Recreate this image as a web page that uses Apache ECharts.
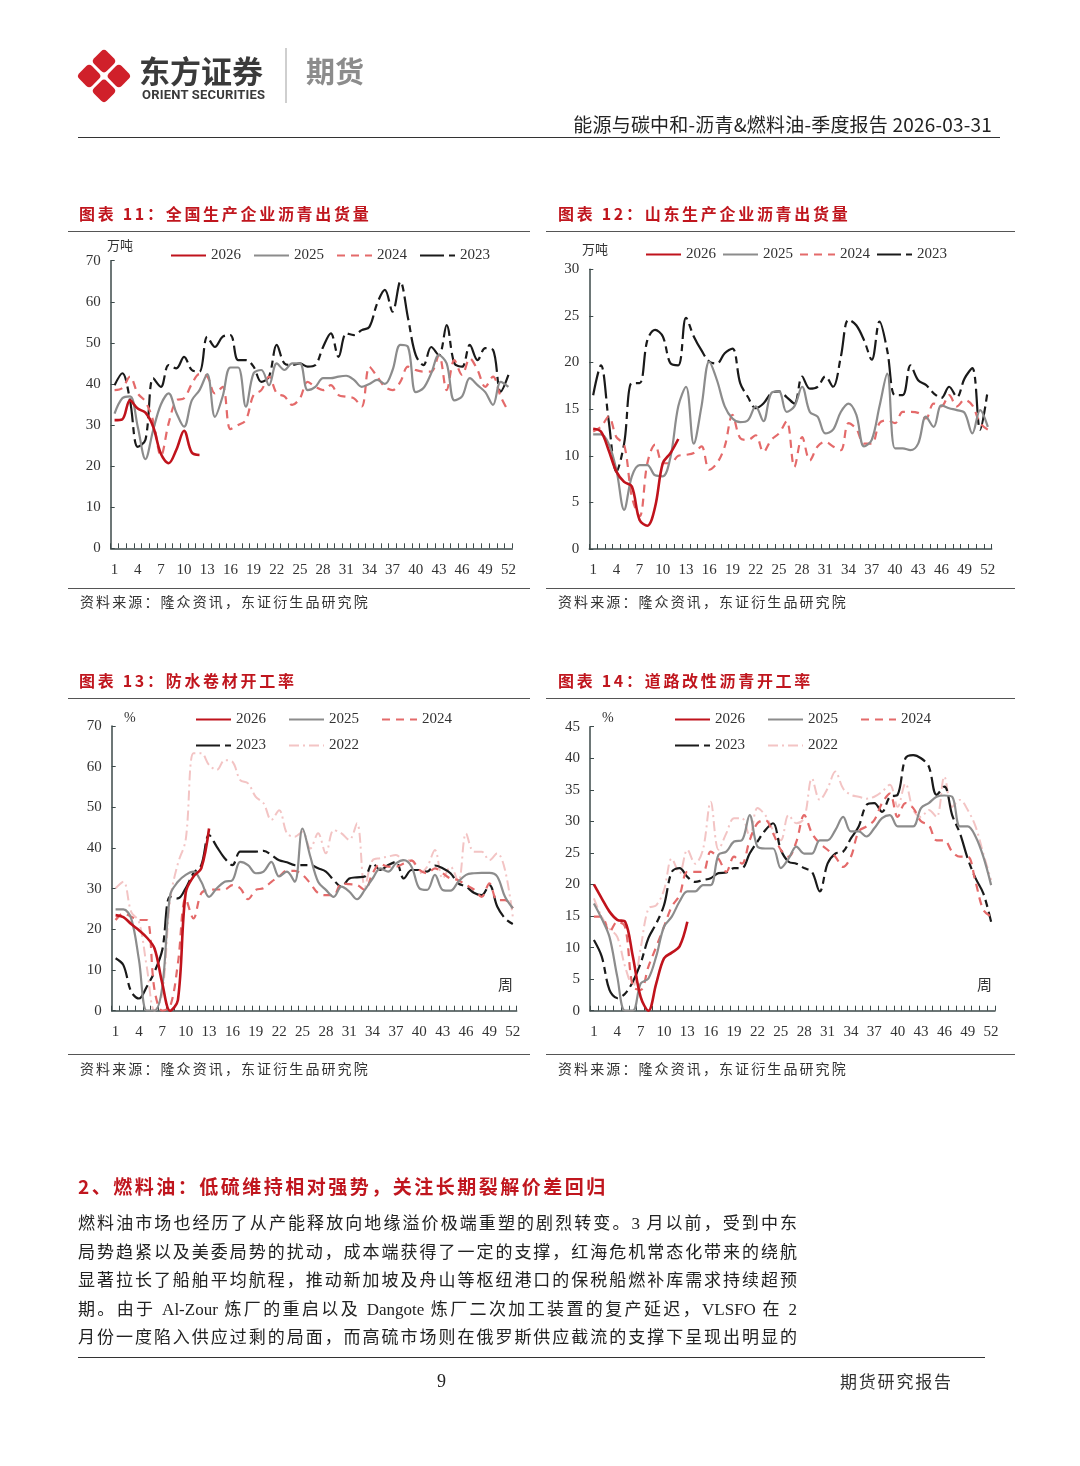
<!DOCTYPE html>
<html><head><meta charset="utf-8">
<script src="https://cdn.jsdelivr.net/npm/echarts@6/dist/echarts.min.js"></script>
<style>
html,body{margin:0;padding:0;background:#fff;}
body{width:1080px;height:1466px;position:relative;overflow:hidden;font-family:"Liberation Serif","Noto Sans CJK SC",serif;color:#222;}
.abs{position:absolute;white-space:nowrap;}
.hline{position:absolute;height:0;}
#chart{position:absolute;left:0;top:0;width:1080px;height:1466px;}
.ttl{position:absolute;font-family:"Noto Sans CJK SC",sans-serif;font-weight:bold;font-size:16px;color:#c0161e;letter-spacing:2.7px;line-height:20px;}
.src{position:absolute;font-family:"Noto Sans CJK SC",sans-serif;font-size:14px;color:#333;letter-spacing:2.1px;line-height:18px;}
.para{position:absolute;left:78px;width:719px;font-size:17px;line-height:28.5px;color:#222;text-align:justify;text-align-last:justify;font-family:"Liberation Serif","Noto Sans CJK SC",serif;}
</style></head>
<body>
<div id="chart"></div>

<svg class="abs" style="left:76px;top:47px" width="56" height="58" viewBox="0 0 56 58">
  <g transform="translate(28,29) rotate(45)" fill="#d0202a">
    <rect x="-19.5" y="-19.5" width="18" height="18" rx="4"/>
    <rect x="1.5" y="-19.5" width="18" height="18" rx="4"/>
    <rect x="-19.5" y="1.5" width="18" height="18" rx="4"/>
    <rect x="1.5" y="1.5" width="18" height="18" rx="4"/>
  </g>
</svg>
<div class="abs" style="left:139px;top:50px;font-family:'Noto Sans CJK SC';font-weight:bold;font-size:31px;line-height:40px;color:#3a3a3a;">东方证券</div>
<div class="abs" style="left:142px;top:87px;font-family:Roboto,'Liberation Sans';font-weight:bold;font-size:13px;line-height:16px;color:#3a3a3a;letter-spacing:0.2px;">ORIENT SECURITIES</div>
<div class="abs" style="left:285px;top:48px;width:1.5px;height:55px;background:#cfcfcf;"></div>
<div class="abs" style="left:306px;top:50px;font-family:'Noto Sans CJK SC';font-weight:bold;font-size:29px;line-height:40px;color:#8c8c8c;">期货</div>
<div class="abs" style="right:88px;top:112px;font-family:'Noto Sans CJK SC';font-size:19px;line-height:24px;color:#222;letter-spacing:0.2px;">能源与碳中和-沥青&amp;燃料油-季度报告 2026-03-31</div>
<div class="hline" style="left:78px;top:137px;width:922px;border-top:1.5px solid #333;"></div>

<div class="ttl" style="left:79px;top:203px;">图表 11：全国生产企业沥青出货量</div>
<div class="ttl" style="left:558px;top:203px;">图表 12：山东生产企业沥青出货量</div>
<div class="hline" style="left:68px;top:231px;width:462px;border-top:1px solid #555;"></div>
<div class="hline" style="left:546px;top:231px;width:469px;border-top:1px solid #555;"></div>
<div class="hline" style="left:68px;top:588px;width:462px;border-top:1px solid #555;"></div>
<div class="hline" style="left:546px;top:588px;width:469px;border-top:1px solid #555;"></div>
<div class="src" style="left:80px;top:592px;">资料来源：隆众资讯，东证衍生品研究院</div>
<div class="src" style="left:558px;top:592px;">资料来源：隆众资讯，东证衍生品研究院</div>

<div class="ttl" style="left:79px;top:670px;">图表 13：防水卷材开工率</div>
<div class="ttl" style="left:558px;top:670px;">图表 14：道路改性沥青开工率</div>
<div class="hline" style="left:68px;top:698px;width:462px;border-top:1px solid #555;"></div>
<div class="hline" style="left:546px;top:698px;width:469px;border-top:1px solid #555;"></div>
<div class="hline" style="left:68px;top:1054px;width:462px;border-top:1px solid #555;"></div>
<div class="hline" style="left:546px;top:1054px;width:469px;border-top:1px solid #555;"></div>
<div class="src" style="left:80px;top:1059px;">资料来源：隆众资讯，东证衍生品研究院</div>
<div class="src" style="left:558px;top:1059px;">资料来源：隆众资讯，东证衍生品研究院</div>

<div class="abs" style="left:78px;top:1173px;font-family:'Noto Sans CJK SC';font-weight:bold;font-size:19px;line-height:26px;color:#c0161e;letter-spacing:2.5px;">2、燃料油：低硫维持相对强势，关注长期裂解价差回归</div>
<div class="para" style="top:1210px;">燃料油市场也经历了从产能释放向地缘溢价极端重塑的剧烈转变。3 月以前，受到中东</div>
<div class="para" style="top:1238.5px;">局势趋紧以及美委局势的扰动，成本端获得了一定的支撑，红海危机常态化带来的绕航</div>
<div class="para" style="top:1267px;">显著拉长了船舶平均航程，推动新加坡及舟山等枢纽港口的保税船燃补库需求持续超预</div>
<div class="para" style="top:1295.5px;">期。由于 Al-Zour 炼厂的重启以及 Dangote 炼厂二次加工装置的复产延迟，VLSFO 在 2</div>
<div class="para" style="top:1324px;">月份一度陷入供应过剩的局面，而高硫市场则在俄罗斯供应截流的支撑下呈现出明显的</div>
<div class="hline" style="left:78px;top:1357px;width:907px;border-top:1px solid #333;"></div>
<div class="abs" style="left:437px;top:1369px;font-size:18px;line-height:24px;">9</div>
<div class="abs" style="left:840px;top:1369px;font-family:'Noto Sans CJK SC';font-size:17px;line-height:24px;letter-spacing:1.8px;color:#333;">期货研究报告</div>

<script>
// ---------- data ----------
const weeks = ['1','2','3','4','5','6','7','8','9','10','11','12','13','14','15','16','17','18','19','20','21','22','23','24','25','26','27','28','29','30','31','32','33','34','35','36','37','38','39','40','41','42','43','44','45','46','47','48','49','50','51','52'];

// Chart 11: 全国生产企业沥青出货量 (万吨)
const nat2026 = [31.2,31.4,36,34,33,29.6,23,20.7,24,28.6,23.3,22.7];
const nat2025 = [32.8,36.5,37,29.6,21.7,28.8,35,37.7,33,29.6,36,38.5,42.4,32,37,44,44,34.5,42.6,43.4,39.7,45,43.4,45,45,38.5,39.3,41.4,41.4,41.8,42,41,39.3,40,41,40,43.4,49.5,49,38,39,42.6,47,45,36,37,41.4,39.7,38,34.9,40.5,39.3];
const nat2024 = [38.5,39,41.8,37.7,35.7,31,22.5,30.4,36,36.5,40,42.4,41.8,37.7,39.3,29,30,31.2,37.3,38.5,41.8,37.7,37,34.9,36.5,40.5,39.3,38.5,39.7,37.3,36.9,36.5,34.5,44.2,41.8,39.3,38.5,40.5,44.2,43.4,43,43,47,38.5,45.8,42.2,46.2,43.4,39.3,41.8,36.9,33.3];
const nat2023 = [39.7,42.6,36,24.7,26.4,41.4,39.3,44.6,43.8,46.6,43.4,43,51.5,49,51.5,51.9,45.8,45.8,44.2,40.5,41.8,49.5,45,44.6,45,44.2,44.6,49,52.3,46.6,52.3,51.9,53.1,53.9,59.6,62.9,57.6,64.9,56,47,44.6,49,47,54.3,45,44.2,49.5,45.8,48.7,48.3,38.1,42.2];

// Chart 12: 山东生产企业沥青出货量 (万吨)
const sd2026 = [12.9,12.6,10.6,8.3,7.2,6.7,3.1,2.5,4.5,9.2,10.3,11.8];
const sd2025 = [12.3,12.3,11.3,8.5,4.2,7.8,9,9,7.9,7.8,9.9,15.3,17.4,11.3,15.3,20.1,18.1,15.3,14,13.6,13.8,15.3,13.7,16.7,16.9,14.7,15.3,17.4,14.7,14.2,12.4,12.8,14.7,15.6,14.4,11,11.7,15.3,18.8,10.8,10.8,10.6,11.3,14.2,13.1,15.4,15.1,14.9,14.6,12.4,14.9,13.1];
const sd2024 = [12.6,13.1,14.2,12,11.2,5.6,3.5,9.2,11.2,9.2,9.2,10,10.1,10.3,11,8.5,9.2,11,14.4,11.9,11.7,12.2,10.4,11.7,12.4,13.7,8.8,12,9.5,11,11.5,11,10.6,13.5,12.9,11.3,11.3,13.5,13.8,13.5,14.7,14.7,14.6,14,15.6,15.3,16.5,15.3,16,15.4,13.5,12.8];
const sd2023 = [16.5,19.7,13.8,8.3,11.3,17.8,17.8,22.4,23.5,22.8,19.9,19.7,24.8,22.8,21.3,20.1,19.9,21,21.5,17.8,16.3,15.1,15.6,16.7,16.9,16.3,15.6,18.5,17.2,17.4,18.5,17.4,20.6,24.6,24,22.4,20.3,24.4,21.3,16.5,16.5,19.7,18.1,17.6,16.7,16.2,17.4,16.3,18.3,19.4,12.8,17.1];

// Chart 13: 防水卷材开工率 (%)
const wp2026 = [23.5,23,21.3,19.8,18,15.3,6.7,0,2.6,29,33,35,44.8];
const wp2025 = [24.9,24.9,22.7,12.5,0,0,5.9,28.4,31.7,33.4,34.2,31.7,28,30.1,31.7,32.1,36.6,35.8,33.8,34.2,36.6,33,34.2,31.7,44.8,37.9,31.7,29.7,28,30.5,29.3,27.4,29.7,32.5,35,34.2,36.2,37,35.4,30.1,29.7,33.4,29.7,29.5,31.7,33.4,33.8,33.9,33.9,33,28,25.2];
const wp2024 = [22.3,23.9,23.1,22.3,22.3,5.1,0,1,11.6,27.6,22.7,28.9,29.7,29.8,29.8,30.9,30.1,27.4,29.7,30.1,31.7,33,34.4,34.4,33.4,31.3,28.9,28.4,28.4,31.3,31.1,30.9,29.7,33.8,36.1,35.4,35.4,36.2,36.9,34.6,33.8,35,33.8,32.5,32.1,30.9,29.8,28,31.3,27.2,27.2,25.2];
const wp2023 = [12.9,11.2,4.7,3,5.9,9.6,15,28,27.6,30.1,33.8,35.8,43.2,40.3,37.5,35.8,39.1,39.1,39.1,39.3,38.3,37,36.5,35.8,35.8,35.8,35,34.2,32.1,30.5,32.5,32.8,33,36.2,34.6,35.8,36.6,32.5,34.6,34.6,34.2,35.7,35,33.8,31.3,30.5,29,28.4,30.9,25.6,22.7,21.3];
const wp2022 = [30.1,31.7,24.3,21.9,10.8,0,4.3,27.2,36.2,42,63.3,63.3,60.4,59.2,61.6,61.2,56.7,55.9,52.6,51,46.9,49.3,43.6,42.8,44,39.9,43.6,38.7,44.4,43.6,42,46.1,30.5,37,37.5,37.9,38.3,37,37,33.8,35.4,39.5,32.5,35.4,31.7,43.6,39.1,39.1,37,38.7,34.6,23.1];

// Chart 14: 道路改性沥青开工率 (%)
const rd2026 = [20,17.8,15.7,14.4,14.1,8.6,2.2,0,4.3,8.3,9.2,10.2,14.1];
const rd2025 = [17,14.6,11.7,5.4,0,0,4.3,5.1,8.6,13.3,14.9,17.3,18.9,18.9,19.9,19.9,24.7,25.2,26.8,27,31,26,25.7,25.7,22.6,24.1,26,24.9,24.9,27,27,28.6,30.7,28.4,28.4,27.6,28.9,30.5,31,29.2,29.2,29.2,32.1,32.9,33.9,34.1,33.9,29.2,29.2,27.6,24.4,19.9];
const rd2024 = [14.9,14.9,12.5,14.1,13.3,3.8,3.3,7,10.1,13.3,16.5,18.3,22,22,22,25.2,24.1,22,24.4,23.3,27,29.7,30.2,28.1,25.5,24.4,26.8,31,28.1,26.5,25.5,24.4,22.8,24.4,28.4,29.2,30.2,32.9,34.4,30.7,32.9,32.1,30,29.4,27,27,25.2,24.4,24.4,20.4,16,14.9];
const rd2023 = [11.2,8.6,3.3,2,2.7,4.6,7.5,11.5,13.8,16.7,22,22.6,21.2,20.4,20.7,21,21.8,21.9,22.6,22.6,24.9,26.8,28.6,29.7,25.5,23.6,23.3,22.6,22,18.9,23.3,24.9,25.2,27.3,29.2,32.6,32.9,31.5,33.9,34.2,40,40.5,40,38.7,34.2,35.5,31,28.1,24.1,21,18.6,14.1];
const rd2022 = [17.8,14.9,13,11.7,7,3.8,9.9,16.2,16.7,19.1,24.1,21.8,25.5,23.3,25.5,33.1,25.5,28.1,30.5,30.5,27.6,32.1,31,28.6,27,31,29.7,30.5,36.8,33.4,35.2,37.9,35.2,34.2,33.9,33.6,33.9,34.7,35.8,32.3,36,31.8,30.7,31.8,30.7,37.1,32.3,33.4,31.8,29.2,24.9,20.7];

// ---------- styles ----------
const STY = {
  '2026': {color:'#c0131c', width:2.6, type:'solid', z:10},
  '2025': {color:'#8c8c8c', width:2.2, type:'solid', z:8},
  '2024': {color:'#e46a6a', width:2.2, type:[8,6], z:7},
  '2023': {color:'#1a1a1a', width:2.2, type:[24,5,7,5], z:6},
  '2022': {color:'#f3c4c4', width:2, type:[10,4,2,4], z:5}
};
const AX = '#3d4a4a';
const SERIF = 'Liberation Serif';

function mkSeries(name, data, idx){
  const s = STY[name];
  return {name, type:'line', data, xAxisIndex:idx, yAxisIndex:idx, smooth:0.35,
    symbol:'none', showSymbol:false, z:s.z, lineStyle:{color:s.color, width:s.width, type:s.type},
    itemStyle:{color:s.color}};
}
const grids = [
  {left:110.7, top:260.7, width:401.6, height:287.6},
  {left:589.3, top:269.3, width:402.4, height:279.7},
  {left:111.7, top:726,   width:405,   height:284.7},
  {left:590,   top:726.7, width:405,   height:284}
];
const yCfg = [{max:70, interval:10},{max:30, interval:5},{max:70, interval:10},{max:45, interval:5}];

const xAxes = grids.map((g,i)=>({
  type:'category', gridIndex:i, data:weeks, boundaryGap:true,
  axisLine:{lineStyle:{color:AX, width:1.5}},
  axisTick:{show:true, inside:true, length:5, interval:0, lineStyle:{color:AX, width:1}},
  axisLabel:{interval:2, margin:14, fontFamily:SERIF, fontSize:15, color:'#333'}
}));
const yAxes = yCfg.map((c,i)=>({
  type:'value', gridIndex:i, min:0, max:c.max, interval:c.interval,
  axisLine:{show:true, lineStyle:{color:AX, width:1.5}},
  axisTick:{show:true, inside:true, length:4, lineStyle:{color:AX}},
  splitLine:{show:false},
  axisLabel:{margin:10, fontFamily:SERIF, fontSize:15, color:'#333'}
}));

const series = [
  mkSeries('2023', nat2023, 0), mkSeries('2024', nat2024, 0), mkSeries('2025', nat2025, 0), mkSeries('2026', nat2026, 0),
  mkSeries('2023', sd2023, 1), mkSeries('2024', sd2024, 1), mkSeries('2025', sd2025, 1), mkSeries('2026', sd2026, 1),
  mkSeries('2022', wp2022, 2), mkSeries('2023', wp2023, 2), mkSeries('2024', wp2024, 2), mkSeries('2025', wp2025, 2), mkSeries('2026', wp2026, 2),
  mkSeries('2022', rd2022, 3), mkSeries('2023', rd2023, 3), mkSeries('2024', rd2024, 3), mkSeries('2025', rd2025, 3), mkSeries('2026', rd2026, 3)
];

const legTxt = {fontFamily:SERIF, fontSize:15, color:'#333'};
const legBase = {orient:'horizontal', itemWidth:35, itemHeight:12, textStyle:legTxt, selectedMode:false, padding:0,
  itemStyle:{opacity:0, borderWidth:0}};
const legend = [
  Object.assign({}, legBase, {left:170, top:248, itemGap:12, data:['2026','2025','2024','2023']}),
  Object.assign({}, legBase, {left:645, top:247, itemGap:6, data:['2026','2025','2024','2023']}),
  Object.assign({}, legBase, {left:195, top:712, itemGap:22, data:['2026','2025','2024']}),
  Object.assign({}, legBase, {left:195, top:738, itemGap:22, data:['2023','2022']}),
  Object.assign({}, legBase, {left:674, top:712, itemGap:22, data:['2026','2025','2024']}),
  Object.assign({}, legBase, {left:674, top:738, itemGap:22, data:['2023','2022']})
];

const unitStyle = {fill:'#333', font:'13px "Noto Sans CJK SC"'};
const graphic = [
  {type:'text', left:107, top:239, style:Object.assign({text:'万吨'}, unitStyle)},
  {type:'text', left:582, top:243, style:Object.assign({text:'万吨'}, unitStyle)},
  {type:'text', left:124, top:711, style:{text:'%', fill:'#333', font:'14px "Liberation Serif"'}},
  {type:'text', left:602, top:711, style:{text:'%', fill:'#333', font:'14px "Liberation Serif"'}},
  {type:'text', left:498, top:977, style:{text:'周', fill:'#333', font:'15px "Noto Sans CJK SC"'}},
  {type:'text', left:977, top:977, style:{text:'周', fill:'#333', font:'15px "Noto Sans CJK SC"'}}
];

const chart = echarts.init(document.getElementById('chart'), null, {renderer:'canvas'});
chart.setOption({
  animation:false, backgroundColor:'transparent',
  grid:grids, xAxis:xAxes, yAxis:yAxes, series, legend, graphic
});
</script>
</body></html>
